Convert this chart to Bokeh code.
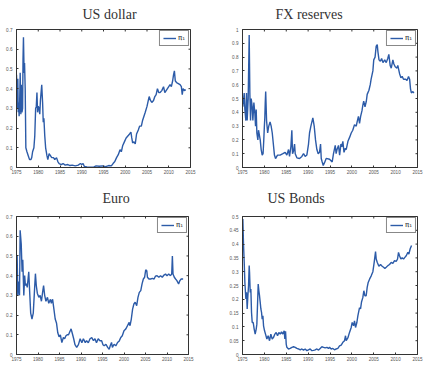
import math
from bokeh.plotting import figure
from bokeh.models import Range1d, FixedTicker
from bokeh.layouts import column, row
from bokeh.embed import file_html
from bokeh.resources import INLINE

# ---------------- data ----------------
x_ticks = [1975, 1980, 1985, 1990, 1995, 2000, 2005, 2010, 2015]
x_tick_labels = ["1975", "1980", "1985", "1990", "1995", "2000", "2005", "2010", "2015"]

titles = ["US dollar", "FX reserves", "Euro", "US Bonds"]
legend_label = "π₁"

usd_year = [1975.0, 1975.1, 1975.2, 1975.3, 1975.4, 1975.5, 1975.6, 1975.7, 1975.85, 1976.0,
            1976.1, 1976.25, 1976.4, 1976.5, 1976.6, 1976.75, 1976.85, 1977.0, 1977.15, 1977.4,
            1977.7, 1978.0, 1978.3, 1978.5, 1978.7, 1979.0, 1979.2, 1979.4, 1979.55, 1979.7,
            1979.85, 1980.0, 1980.2, 1980.35, 1980.5, 1980.8, 1981.0, 1981.15, 1981.3, 1981.5,
            1981.7, 1982.0, 1982.2, 1982.5, 1982.8, 1983.1, 1983.5, 1983.8, 1984.2, 1984.5,
            1984.8, 1985.3, 1985.7, 1986.2, 1986.8, 1987.3, 1987.8, 1988.5, 1989.2, 1989.7,
            1990.0, 1990.3, 1990.6, 1991.2, 1992.0, 1992.8, 1993.3, 1994.0, 1994.8, 1995.5,
            1996.2, 1996.8, 1997.2, 1997.6, 1998.0, 1998.4, 1998.8, 1999.1, 1999.4, 1999.8,
            2000.2, 2000.6, 2001.0, 2001.3, 2001.5, 2001.7, 2002.0, 2002.3, 2002.6, 2003.0,
            2003.3, 2003.7, 2004.0, 2004.3, 2004.6, 2005.0, 2005.3, 2005.5, 2005.8, 2006.1,
            2006.5, 2006.8, 2007.1, 2007.4, 2007.7, 2008.0, 2008.4, 2008.8, 2009.1, 2009.4,
            2009.7, 2010.0, 2010.3, 2010.6, 2010.9, 2011.1, 2011.3, 2011.5, 2011.8, 2012.2,
            2012.6, 2012.9, 2013.1, 2013.3, 2013.6, 2013.9]
usd_pi = [0.47, 0.40, 0.30, 0.45, 0.28, 0.33, 0.26, 0.30, 0.48, 0.27,
          0.42, 0.28, 0.30, 0.55, 0.66, 0.48, 0.53, 0.40, 0.10, 0.08,
          0.06, 0.04, 0.04, 0.05, 0.08, 0.10, 0.16, 0.30, 0.31, 0.38,
          0.28, 0.31, 0.30, 0.27, 0.34, 0.42, 0.33, 0.23, 0.25, 0.16,
          0.10, 0.06, 0.04, 0.07, 0.06, 0.05, 0.05, 0.04, 0.05, 0.03,
          0.02, 0.015, 0.02, 0.012, 0.015, 0.01, 0.012, 0.008, 0.012, 0.02,
          0.015, 0.02, 0.005, 0.003, 0.002, 0.003, 0.008, 0.006, 0.008, 0.004,
          0.01, 0.008, 0.02, 0.03, 0.05, 0.065, 0.09, 0.08, 0.11, 0.13,
          0.15, 0.16, 0.17, 0.18, 0.15, 0.125, 0.13, 0.12, 0.17, 0.19,
          0.21, 0.21, 0.24, 0.26, 0.28, 0.31, 0.34, 0.36, 0.34, 0.33,
          0.34, 0.36, 0.37, 0.40, 0.38, 0.38, 0.39, 0.41, 0.38, 0.39,
          0.40, 0.41, 0.42, 0.41, 0.44, 0.47, 0.49, 0.44, 0.43, 0.425,
          0.42, 0.41, 0.37, 0.40, 0.39, 0.395]

fx_year = [1975.08, 1975.39, 1975.54, 1975.77, 1975.92, 1976.07, 1976.3, 1976.53, 1976.68, 1976.84,
           1976.99, 1977.22, 1977.37, 1977.6, 1977.83, 1977.98, 1978.13, 1978.28, 1978.51, 1978.66,
           1978.89, 1979.05, 1979.27, 1979.5, 1979.7, 1979.85, 1980.0, 1980.1, 1980.2, 1980.3,
           1980.5, 1980.75, 1981.0, 1981.3, 1981.55, 1981.8, 1982.05, 1982.3, 1982.55, 1983.0,
           1983.6, 1984.23, 1984.76, 1985.14, 1985.52, 1985.75, 1986.06, 1986.28, 1986.44, 1986.67,
           1986.9, 1987.05, 1987.43, 1988.04, 1988.57, 1988.95, 1989.33, 1989.71, 1990.09, 1990.32,
           1990.63, 1990.93, 1991.08, 1991.39, 1991.69, 1992.0, 1992.3, 1992.6, 1992.84, 1993.0,
           1993.22, 1993.45, 1993.75, 1994.13, 1994.9, 1995.5, 1995.8, 1996.2, 1996.4, 1996.6,
           1996.95, 1997.2, 1997.5, 1997.7, 1997.94, 1998.2, 1998.5, 1998.7, 1999.1, 1999.5,
           1999.85, 2000.2, 2000.6, 2001.0, 2001.2, 2001.5, 2001.75, 2002.0, 2002.3, 2002.5,
           2002.7, 2003.0, 2003.3, 2003.5, 2003.9, 2004.2, 2004.4, 2004.8, 2005.0, 2005.3,
           2005.56, 2005.8, 2005.95, 2006.2, 2006.5, 2006.8, 2007.1, 2007.5, 2007.85, 2008.2,
           2008.45, 2008.75, 2009.0, 2009.37, 2009.6, 2009.9, 2010.3, 2010.5, 2010.9, 2011.2,
           2011.5, 2011.8, 2012.3, 2012.6, 2012.95, 2013.2, 2013.4, 2013.6, 2013.95, 2014.17]
fx_pi = [0.44, 0.54, 0.42, 0.34, 0.54, 0.34, 0.50, 0.96, 0.54, 0.34,
         0.50, 0.44, 0.34, 0.47, 0.39, 0.30, 0.42, 0.25, 0.20, 0.27,
         0.23, 0.20, 0.13, 0.09, 0.10, 0.19, 0.30, 0.36, 0.47, 0.55,
         0.34, 0.25, 0.30, 0.33, 0.30, 0.25, 0.17, 0.09, 0.065, 0.09,
         0.09, 0.10, 0.11, 0.09, 0.13, 0.08, 0.15, 0.27, 0.10, 0.12,
         0.17, 0.10, 0.07, 0.065, 0.08, 0.10, 0.08, 0.09, 0.17, 0.25,
         0.30, 0.34, 0.36, 0.30, 0.20, 0.13, 0.10, 0.11, 0.17, 0.065,
         0.04, 0.015, 0.035, 0.066, 0.06, 0.04, 0.10, 0.16, 0.10, 0.13,
         0.16, 0.09, 0.17, 0.15, 0.19, 0.11, 0.14, 0.13, 0.19, 0.22,
         0.25, 0.27, 0.31, 0.30, 0.33, 0.37, 0.32, 0.37, 0.41, 0.45,
         0.48, 0.44, 0.48, 0.53, 0.56, 0.60, 0.64, 0.70, 0.78, 0.80,
         0.88, 0.89, 0.84, 0.78, 0.77, 0.79, 0.76, 0.78, 0.76, 0.79,
         0.82, 0.74, 0.72, 0.78, 0.75, 0.73, 0.72, 0.74, 0.68, 0.65,
         0.66, 0.64, 0.64, 0.63, 0.66, 0.64, 0.57, 0.54, 0.55, 0.54]

eur_year = [1975.0, 1975.15, 1975.3, 1975.5, 1975.7, 1975.85, 1976.1, 1976.3, 1976.46, 1976.7,
            1976.9, 1977.07, 1977.3, 1977.5, 1977.85, 1978.1, 1978.3, 1978.6, 1978.9, 1979.16,
            1979.4, 1979.6, 1979.85, 1980.2, 1980.5, 1980.8, 1981.1, 1981.3, 1981.55, 1981.85,
            1982.2, 1982.5, 1982.9, 1983.1, 1983.4, 1983.7, 1984.0, 1984.3, 1984.6, 1984.9,
            1985.2, 1985.55, 1985.9, 1986.2, 1986.5, 1986.8, 1987.1, 1987.5, 1987.7, 1988.0,
            1988.3, 1988.6, 1989.0, 1989.4, 1989.8, 1990.2, 1990.55, 1991.0, 1991.3, 1991.7,
            1992.1, 1992.5, 1992.9, 1993.25, 1993.6, 1994.0, 1994.4, 1994.8, 1995.1, 1995.4,
            1995.8, 1996.2, 1996.55, 1996.8, 1997.1, 1997.3, 1997.7, 1998.1, 1998.5, 1998.9,
            1999.25, 1999.6, 2000.0, 2000.4, 2000.8, 2001.2, 2001.4, 2001.7, 2002.0, 2002.3,
            2002.6, 2002.95, 2003.25, 2003.56, 2003.9, 2004.2, 2004.5, 2004.8, 2005.05, 2005.3,
            2005.45, 2005.8, 2006.2, 2006.6, 2007.0, 2007.3, 2007.7, 2008.1, 2008.5, 2008.9,
            2009.3, 2009.65, 2010.0, 2010.4, 2010.8, 2011.1, 2011.25, 2011.4, 2011.7, 2012.0,
            2012.3, 2012.7, 2013.0, 2013.3, 2013.75]
eur_pi = [0.49, 0.50, 0.30, 0.37, 0.30, 0.63, 0.56, 0.42, 0.48, 0.30,
          0.40, 0.35, 0.36, 0.34, 0.42, 0.30, 0.21, 0.18, 0.21, 0.315,
          0.41, 0.35, 0.31, 0.29, 0.30, 0.27, 0.32, 0.35, 0.30, 0.27,
          0.29, 0.26, 0.28, 0.26, 0.28, 0.23, 0.18, 0.16, 0.11, 0.09,
          0.10, 0.06, 0.086, 0.08, 0.095, 0.10, 0.10, 0.12, 0.13, 0.105,
          0.08, 0.05, 0.036, 0.05, 0.08, 0.06, 0.08, 0.06, 0.07, 0.06,
          0.08, 0.086, 0.07, 0.08, 0.06, 0.08, 0.07, 0.07, 0.05, 0.044,
          0.052, 0.036, 0.027, 0.044, 0.061, 0.036, 0.052, 0.044, 0.061, 0.069,
          0.086, 0.095, 0.12, 0.129, 0.146, 0.163, 0.146, 0.18, 0.23, 0.256,
          0.265, 0.248, 0.29, 0.315, 0.324, 0.358, 0.383, 0.392, 0.43, 0.425,
          0.392, 0.383, 0.383, 0.386, 0.383, 0.397, 0.40, 0.392, 0.40, 0.392,
          0.403, 0.408, 0.40, 0.408, 0.40, 0.408, 0.50, 0.408, 0.392, 0.383,
          0.375, 0.358, 0.375, 0.383, 0.383]

bond_year = [1975.08, 1975.24, 1975.39, 1975.54, 1975.77, 1975.92, 1976.07, 1976.23, 1976.38, 1976.53,
             1976.61, 1976.76, 1976.91, 1977.06, 1977.22, 1977.45, 1977.67, 1977.9, 1978.13, 1978.28,
             1978.44, 1978.59, 1978.74, 1978.89, 1979.05, 1979.2, 1979.35, 1979.5, 1979.66, 1979.81,
             1980.04, 1980.26, 1980.57, 1980.87, 1981.18, 1981.48, 1981.79, 1982.09, 1982.4, 1982.7,
             1983.01, 1983.31, 1983.62, 1983.92, 1984.23, 1984.53, 1984.68, 1984.84, 1984.99, 1985.14,
             1985.52, 1985.9, 1986.3, 1986.67, 1987.05, 1987.43, 1987.81, 1988.2, 1988.57, 1988.95,
             1989.33, 1989.71, 1990.09, 1990.47, 1990.86, 1991.24, 1991.62, 1992.0, 1992.38, 1992.76,
             1993.14, 1993.52, 1993.9, 1994.29, 1994.67, 1994.9, 1995.27, 1995.65, 1996.03, 1996.4,
             1996.8, 1997.18, 1997.56, 1997.94, 1998.32, 1998.55, 1998.7, 1999.08, 1999.46, 1999.85,
             2000.07, 2000.38, 2000.6, 2000.84, 2001.14, 2001.37, 2001.75, 2001.98, 2002.2, 2002.5,
             2002.74, 2002.97, 2003.27, 2003.5, 2003.73, 2004.04, 2004.42, 2004.8, 2005.1, 2005.41,
             2005.56, 2005.79, 2006.17, 2006.55, 2006.93, 2007.24, 2007.54, 2007.85, 2008.23, 2008.61,
             2008.99, 2009.37, 2009.75, 2010.13, 2010.44, 2010.66, 2010.89, 2011.2, 2011.5, 2011.81,
             2012.11, 2012.42, 2012.8, 2013.03, 2013.33, 2013.64]
bond_pi = [0.491, 0.395, 0.334, 0.262, 0.201, 0.225, 0.165, 0.213, 0.249, 0.322,
           0.298, 0.225, 0.237, 0.153, 0.116, 0.116, 0.092, 0.074, 0.092, 0.11,
           0.183, 0.255, 0.231, 0.213, 0.189, 0.165, 0.153, 0.128, 0.14, 0.104,
           0.086, 0.074, 0.056, 0.068, 0.05, 0.074, 0.056, 0.062, 0.074, 0.08,
           0.068, 0.08, 0.074, 0.082, 0.074, 0.086, 0.056, 0.084, 0.038, 0.026,
           0.02, 0.022, 0.026, 0.028, 0.026, 0.022, 0.02, 0.017, 0.02, 0.016,
           0.02, 0.014, 0.017, 0.02, 0.014, 0.015, 0.017, 0.02, 0.016, 0.022,
           0.028, 0.026, 0.024, 0.026, 0.022, 0.026, 0.02, 0.022, 0.017, 0.02,
           0.022, 0.031, 0.034, 0.044, 0.05, 0.068, 0.05, 0.06, 0.08, 0.098,
           0.116, 0.104, 0.122, 0.098, 0.116, 0.14, 0.17, 0.165, 0.19, 0.206,
           0.231, 0.213, 0.213, 0.243, 0.261, 0.273, 0.285, 0.30, 0.334, 0.373,
           0.346, 0.334, 0.32, 0.326, 0.32, 0.316, 0.312, 0.316, 0.322, 0.326,
           0.334, 0.33, 0.34, 0.337, 0.346, 0.37, 0.358, 0.346, 0.35, 0.346,
           0.352, 0.358, 0.37, 0.364, 0.383, 0.395]

y07_ticks = [0, 0.1, 0.2, 0.3, 0.4, 0.5, 0.6, 0.7]
y07_labels = ["0", "0.1", "0.2", "0.3", "0.4", "0.5", "0.6", "0.7"]
y10_ticks = [0, 0.1, 0.2, 0.3, 0.4, 0.5, 0.6, 0.7, 0.8, 0.9, 1]
y10_labels = ["0", "0.1", "0.2", "0.3", "0.4", "0.5", "0.6", "0.7", "0.8", "0.9", "1"]
y05_ticks = [0, 0.05, 0.1, 0.15, 0.2, 0.25, 0.3, 0.35, 0.4, 0.45, 0.5]
y05_labels = ["0", "0.05", "0.1", "0.15", "0.2", "0.25", "0.3", "0.35", "0.4", "0.45", "0.5"]

# ---------------- style ----------------
LINE = "#2C5BA8"
AX = "#333333"
TICK_FONT = "Liberation Sans"
TITLE_H = 26  # height of the strip that holds each title


def style_axis(ax, ticks, labels, standoff):
    ax.ticker = FixedTicker(ticks=ticks)
    ax.major_label_overrides = dict(zip(ticks, labels))
    ax.axis_line_color = AX
    ax.axis_line_width = 1
    ax.major_tick_line_color = AX
    ax.major_tick_in = 2
    ax.major_tick_out = 0
    ax.minor_tick_line_color = None
    ax.major_label_text_font = TICK_FONT
    ax.major_label_text_color = "#555555"
    ax.major_label_text_font_size = "4.6px"
    ax.major_label_standoff = standoff


def title_strip(title, w, bl, br, toff):
    t = figure(width=w, height=TITLE_H, output_backend="svg", toolbar_location=None,
               x_axis_location=None, y_axis_location=None,
               min_border_left=bl, min_border_right=br, min_border_top=0, min_border_bottom=0,
               background_fill_color="white", border_fill_color="white")
    t.outline_line_color = None
    for g in t.grid:
        g.visible = False
    t.title.text = title
    t.title.align = "left"
    t.title.offset = toff
    t.title.standoff = 8
    t.title.text_font = "Liberation Serif"
    t.title.text_font_size = "14px"
    t.title.text_font_style = "normal"
    t.title.text_color = "#333333"
    return t


def panel(xs, ys, yticks, ylabels, w, h, bl, br, bt, bb):
    p = figure(width=w, height=h, x_range=Range1d(x_ticks[0], x_ticks[-1]),
               y_range=Range1d(yticks[0], yticks[-1]),
               output_backend="svg", toolbar_location=None, title=None,
               min_border_left=bl, min_border_right=br, min_border_top=bt, min_border_bottom=bb,
               background_fill_color="white", border_fill_color="white")
    style_axis(p.below[0], x_ticks, x_tick_labels, 2)
    style_axis(p.left[0], yticks, ylabels, 4)
    p.outline_line_color = AX
    p.xgrid.visible = False
    p.ygrid.visible = False
    # inward tick marks on the top and right edges of the box
    p.scatter(x=x_ticks, y=[yticks[-1]] * len(x_ticks), marker="dash", angle=math.pi / 2,
              size=4, line_color=AX, line_width=1)
    p.scatter(x=[x_ticks[-1]] * len(yticks), y=yticks, marker="dash",
              size=4, line_color=AX, line_width=1)
    p.line(xs, ys, line_color=LINE, line_width=1.4, legend_label=legend_label)
    lg = p.legend[0]
    lg.location = "top_right"
    lg.margin = 1
    lg.padding = 3
    lg.spacing = 0
    lg.glyph_width = 13
    lg.glyph_height = 8
    lg.label_height = 8
    lg.label_width = 6
    lg.label_standoff = 2
    lg.label_text_font = "DejaVu Sans"
    lg.label_text_font_size = "7px"
    lg.label_text_color = "#222222"
    lg.border_line_color = "#111111"
    lg.border_line_width = 1.2
    lg.background_fill_color = "white"
    lg.background_fill_alpha = 1
    return p


t1 = title_strip(titles[0], 218, 16, 28, 66)
t2 = title_strip(titles[1], 218, 24, 19, 33)
t3 = title_strip(titles[2], 218, 16, 30, 86)
t4 = title_strip(titles[3], 218, 24, 19, 25)

p1 = panel(usd_year, usd_pi, y07_ticks, y07_labels, 218, 184 - TITLE_H, 16, 28, 29 - TITLE_H, 17)
p2 = panel(fx_year, fx_pi, y10_ticks, y10_labels, 218, 184 - TITLE_H, 24, 19, 29 - TITLE_H, 17)
p3 = panel(eur_year, eur_pi, y07_ticks, y07_labels, 218, 183 - TITLE_H, 16, 30, 32 - TITLE_H, 13)
p4 = panel(bond_year, bond_pi, y05_ticks, y05_labels, 218, 183 - TITLE_H, 24, 19, 32 - TITLE_H, 13)

layout = column(row(t1, t2), row(p1, p2), row(t3, t4), row(p3, p4))
open("out.html", "w").write(file_html(layout, INLINE))
